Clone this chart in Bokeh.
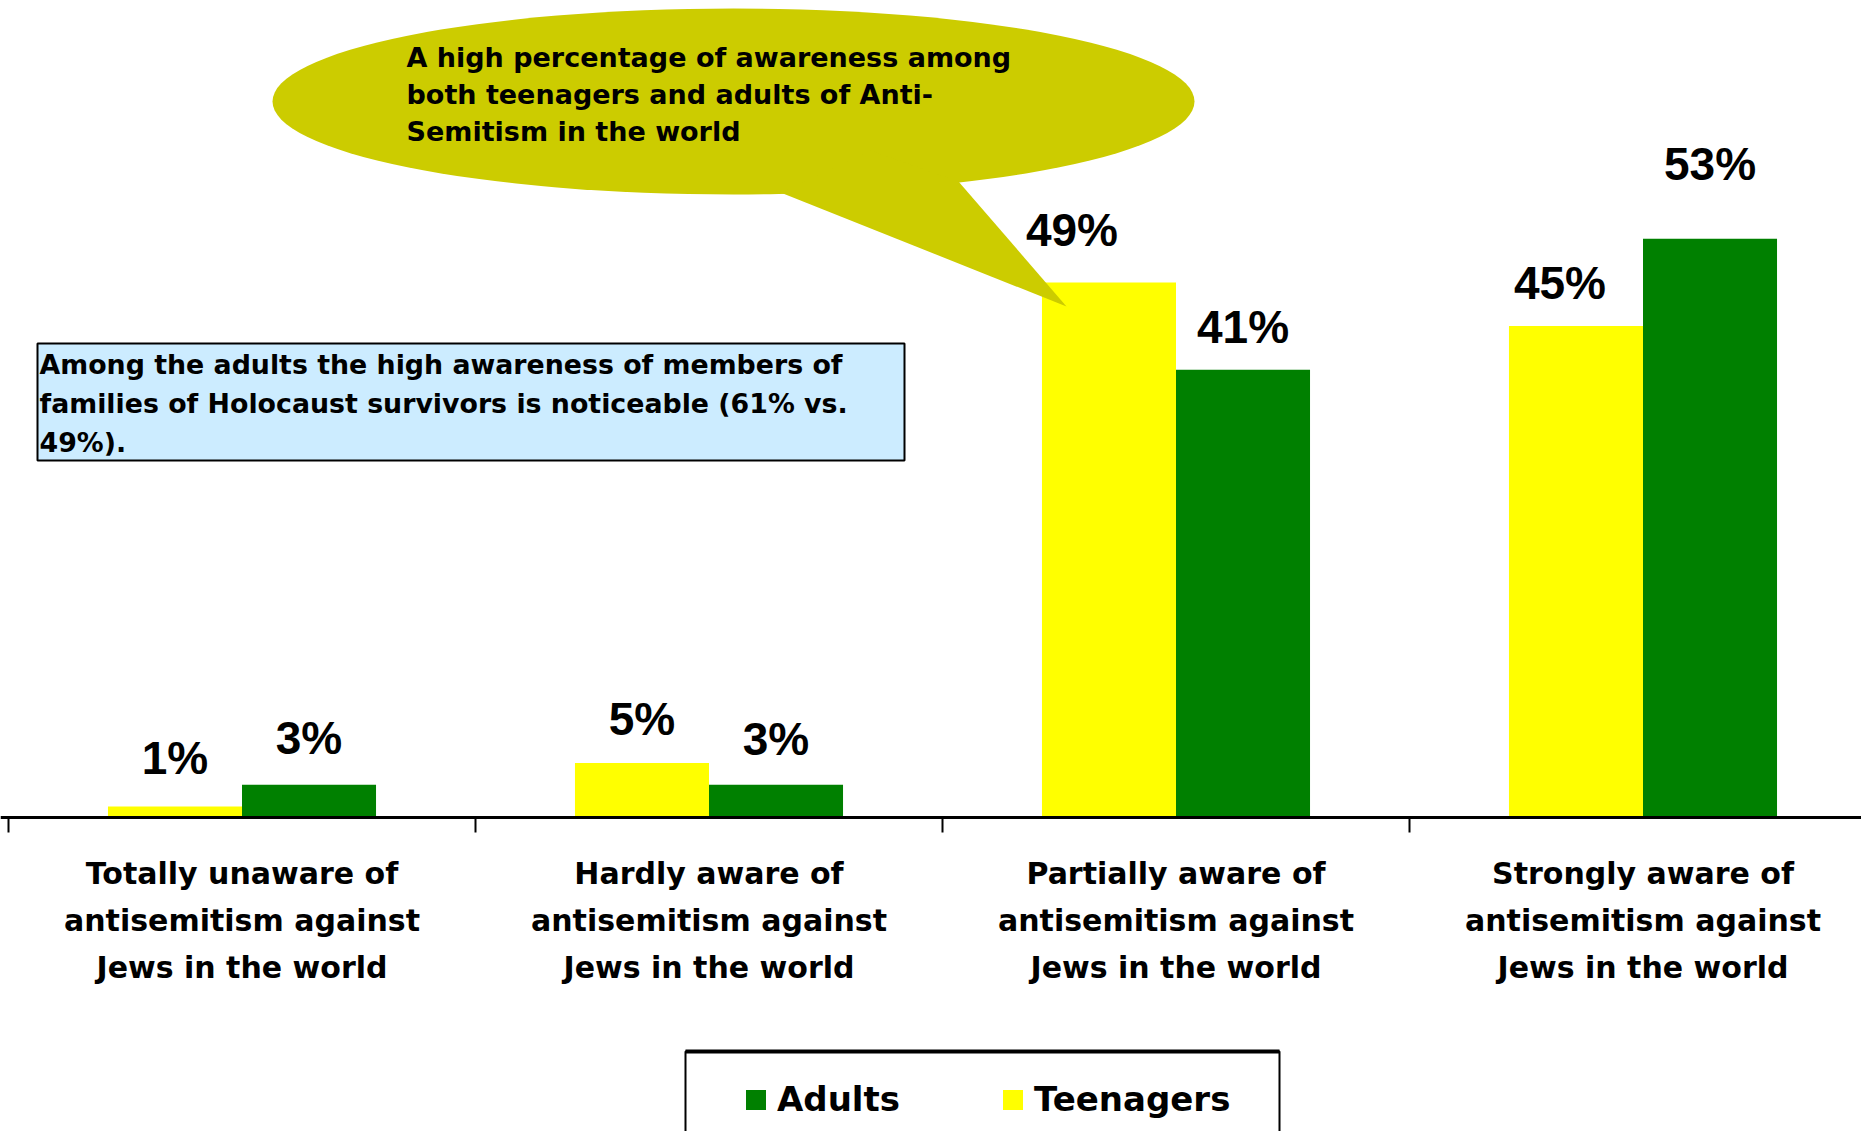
from bokeh.plotting import figure
from bokeh.models import ColumnDataSource, Range1d, Legend, LegendItem
from bokeh.core.properties import value
from bokeh.embed import file_html
from bokeh.resources import INLINE

# ---------------- data ----------------
categories = [
    "Totally unaware of\nantisemitism against\nJews in the world",
    "Hardly aware of\nantisemitism against\nJews in the world",
    "Partially aware of\nantisemitism against\nJews in the world",
    "Strongly aware of\nantisemitism against\nJews in the world",
]
teenagers = [1, 5, 49, 45]
adults = [3, 3, 41, 53]
series_names = ["Adults", "Teenagers"]
callout_text = "A high percentage of awareness among\nboth teenagers and adults of Anti-\nSemitism in the world"
note_text = ("Among the adults the high awareness of members of\n"
             "families of Holocaust survivors is noticeable (61% vs.\n"
             "49%).")

# label nudges (screen px) relative to bar tops, as placed in the original
teen_dx = [0, 0, -37, -16]
teen_dy = [-49, -44, -52, -43]
adult_dx = [0, 0, 0, 0]
adult_dy = [-47, -46, -43, -75]

# ---------------- layout ----------------
W, H = 1861, 1131
CAT_PX = 467.0          # pixels per category
PX_PER_PCT = 10.92      # pixels per percentage point
X0_PX = 8               # left end of the category axis
BASE_PX = 817           # baseline, from top of canvas
Y_TOP = BASE_PX / PX_PER_PCT
Y_BOT = -(H - BASE_PX) / PX_PER_PCT
X_START = -X0_PX / CAT_PX
X_END = (W - X0_PX) / CAT_PX


def xd(px):
    return (px - X0_PX) / CAT_PX


def yd(py):
    return Y_TOP - py / PX_PER_PCT


YELLOW = "#FFFF00"
GREEN = "#008000"
OLIVE = "#CCCC00"
BOLD_WIDE = value("DejaVu Sans")
ARIAL = value("Liberation Sans")
EM = 1.164  # DejaVu line metrics factor

p = figure(width=W, height=H, output_backend="svg", toolbar_location=None,
           x_range=Range1d(X_START, X_END), y_range=Range1d(Y_BOT, Y_TOP),
           x_axis_location=None, y_axis_location=None, min_border=0,
           tools="")
p.outline_line_color = None
p.xgrid.visible = False
p.ygrid.visible = False
p.background_fill_color = "white"
p.border_fill_color = "white"

idx = list(range(len(categories)))
centers = [i + 0.5 for i in idx]
BAR_W = 0.287
src = ColumnDataSource(dict(
    xc=centers,
    xt=[c - BAR_W / 2 for c in centers],
    xa=[c + BAR_W / 2 for c in centers],
    teen=teenagers,
    adult=adults,
    teen_lbl=[f"{v}%" for v in teenagers],
    adult_lbl=[f"{v}%" for v in adults],
    tdx=teen_dx, tdy=teen_dy, adx=adult_dx, ady=adult_dy,
    cat=categories,
))

r_teen = p.vbar(x="xt", top="teen", bottom=0, width=BAR_W, source=src,
                fill_color=YELLOW, line_color=None)
r_adult = p.vbar(x="xa", top="adult", bottom=0, width=BAR_W, source=src,
                 fill_color=GREEN, line_color=None)

# category axis line and boundary ticks
p.segment(x0=[X_START], y0=[0], x1=[X_END], y1=[0], line_color="black", line_width=3)
tick_len = 15 / PX_PER_PCT
p.segment(x0=idx, y0=[0] * 4, x1=idx, y1=[-tick_len] * 4,
          line_color="black", line_width=2)

# category labels
p.text(x="xc", y=yd(920), text="cat", source=src, text_font=BOLD_WIDE,
       text_font_style="bold", text_font_size="30px", text_align="center",
       text_baseline="middle", text_line_height=47 / (30 * EM), text_color="black")

# speech balloon
p.ellipse(x=[xd(733)], y=[yd(101)], width=[922], height=[186],
          width_units="screen", height_units="screen",
          fill_color=OLIVE, line_color=None)
p.patch(x=[xd(780), xd(1066), xd(958), xd(870)],
        y=[yd(192), yd(306), yd(181), yd(150)],
        fill_color=OLIVE, line_color=None)
p.text(x=[xd(406)], y=[yd(94)], text=[callout_text], text_font=BOLD_WIDE,
       text_font_style="bold", text_font_size="27px", text_align="left",
       text_baseline="middle", text_line_height=38 / (27 * EM), text_color="black")

# note box
p.quad(left=[xd(37)], right=[xd(904)], top=[yd(343)], bottom=[yd(460)],
       fill_color="#CCECFF", line_color="black", line_width=2)
p.text(x=[xd(39)], y=[yd(403)], text=[note_text], text_font=BOLD_WIDE,
       text_font_style="bold", text_font_size="26.8px", text_align="left",
       text_baseline="middle", text_line_height=39 / (26.8 * EM), text_color="black")

# value labels
p.text(x="xt", y="teen", text="teen_lbl", source=src, x_offset="tdx",
       y_offset="tdy", text_font=ARIAL, text_font_style="bold",
       text_font_size="46px", text_align="center", text_baseline="middle",
       text_color="black")
p.text(x="xa", y="adult", text="adult_lbl", source=src, x_offset="adx",
       y_offset="ady", text_font=ARIAL, text_font_style="bold",
       text_font_size="46px", text_align="center", text_baseline="middle",
       text_color="black")

# legend box (runs off the bottom edge, as in the original)
p.quad(left=[xd(685)], right=[xd(1279)], top=[yd(1051)], bottom=[yd(1160)],
       fill_color="white", line_color="black", line_width=2)
p.segment(x0=[xd(685)], y0=[yd(1051)], x1=[xd(1279)], y1=[yd(1051)],
          line_color="black", line_width=4)

legend = Legend(items=[LegendItem(label=series_names[0], renderers=[r_adult]),
                       LegendItem(label=series_names[1], renderers=[r_teen])],
                orientation="horizontal", location=(743, 12),
                border_line_color=None, background_fill_alpha=0,
                padding=0, margin=0, spacing=100,
                glyph_width=25, glyph_height=25, label_standoff=9,
                label_text_font="DejaVu Sans", label_text_font_style="bold",
                label_text_font_size="34px", label_text_color="black")
p.add_layout(legend)

open("out.html", "w").write(file_html(p, INLINE))
